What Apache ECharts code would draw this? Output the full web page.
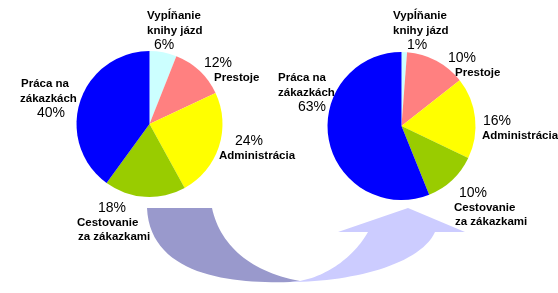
<!DOCTYPE html>
<html><head><meta charset="utf-8">
<script src="https://cdn.jsdelivr.net/npm/echarts@6/dist/echarts.min.js"></script>
<style>html,body{margin:0;padding:0;background:#fff}#c{width:558px;height:293px}</style>
</head><body><div id="c"></div>
<script>
// ---- data ----
const categories = ['Vypĺňanie knihy jázd', 'Prestoje', 'Administrácia', 'Cestovanie za zákazkami', 'Práca na zákazkách'];
const nameLines = [['Vypĺňanie', 'knihy jázd'], ['Prestoje'], ['Administrácia'], ['Cestovanie', 'za zákazkami'], ['Práca na', 'zákazkách']];
// printed percentages
const beforePercents = [6, 12, 24, 18, 40];
const afterPercents = [1, 10, 16, 10, 63];
// slice sizes as drawn in the picture
const beforeSlices = [6, 12, 24, 18, 40];
const afterSlices = [1.2, 13.2, 17.7, 11.8, 56.1];

// ---- styles / layout ----
const sliceColors = ['#ccffff', '#ff8080', '#ffff00', '#99cc00', '#0000ff'];
const lineOrder = [['n', 'n', 'p'], ['p', 'n'], ['p', 'n'], ['p', 'n', 'n'], ['n', 'n', 'p']];
// [left x, first line centre y, indent per line]
const leftLabelLayout = [[147, 16, [0, 0, 7]], [204, 63, [0, 10]], [219, 141, [16, 0]], [77, 208, [21, 0, 1]], [20, 84, [1, 0, 17]]];
const rightLabelLayout = [[393, 16, [0, 0, 14]], [448, 58, [0, 7]], [482, 121, [1, 0]], [454, 193, [5, 0, 1]], [278, 78, [0, 0, 20]]];
const NAME_LH = 14.5, PCT_LH = 15;

const rich = {};
function token(kind, indent) {
  const key = kind + '_' + indent;
  if (!rich[key]) {
    rich[key] = kind === 'n'
      ? { fontFamily: 'Liberation Sans', fontWeight: 'bold', fontSize: 11.5, color: '#000', lineHeight: NAME_LH, align: 'left', padding: [0, 0, 0, indent] }
      : { fontFamily: 'Liberation Sans', fontWeight: 'normal', fontSize: 14, color: '#000', lineHeight: PCT_LH, align: 'left', padding: [0, 0, 0, indent] };
  }
  return key;
}
function makeFormatter(layout, percents) {
  return function (p) {
    const i = p.dataIndex, ind = layout[i][2];
    let ni = 0;
    return lineOrder[i].map(function (k, j) {
      const txt = k === 'n' ? nameLines[i][ni++] : (percents[i] + '%');
      return '{' + token(k, ind[j]) + '|' + txt + '}';
    }).join('\n');
  };
}
function makeLayout(layout) {
  return function (p) {
    const L = layout[p.dataIndex];
    const first = lineOrder[p.dataIndex][0] === 'n' ? NAME_LH : PCT_LH;
    return { x: L[0], y: L[1] - first / 2, align: 'left', verticalAlign: 'top' };
  };
}
[leftLabelLayout, rightLabelLayout].forEach(function (lay) {
  lay.forEach(function (L, i) { lineOrder[i].forEach(function (k, j) { token(k, L[2][j]); }); });
});

function pieSeries(values, percents, center, radius, layout) {
  return {
    type: 'pie',
    center: center,
    radius: radius,
    startAngle: 90,
    clockwise: true,
    avoidLabelOverlap: false,
    silent: true,
    data: categories.map(function (c, i) { return { name: c, value: values[i], itemStyle: { color: sliceColors[i] } }; }),
    label: { show: true, position: 'outside', formatter: makeFormatter(layout, percents), rich: rich },
    labelLine: { show: false },
    labelLayout: makeLayout(layout),
    itemStyle: { borderWidth: 0 }
  };
}

// decorative arrow outline built from cubic segments
function cubic(p0, p1, p2, p3, n) {
  const pts = [];
  for (let k = 0; k <= n; k++) {
    const t = k / n, u = 1 - t;
    pts.push([u*u*u*p0[0] + 3*u*u*t*p1[0] + 3*u*t*t*p2[0] + t*t*t*p3[0],
              u*u*u*p0[1] + 3*u*u*t*p1[1] + 3*u*t*t*p2[1] + t*t*t*p3[1]]);
  }
  return pts;
}
const darkArrow = [[147, 208]].concat(
  cubic([212, 208], [220, 245], [250, 272], [300, 281], 30),
  cubic([290, 282], [230, 284], [150, 275], [147, 208], 30));
const lightArrow = cubic([290, 282], [350, 282], [420, 265], [435, 232], 30).concat(
  [[465, 232], [408, 208], [338, 232]],
  cubic([368, 232], [355, 255], [330, 275], [300, 281], 30));

const chart = echarts.init(document.getElementById('c'), null, { renderer: 'canvas' });
chart.setOption({
  animation: false,
  backgroundColor: '#fff',
  graphic: [
    { type: 'polygon', z: 0, shape: { points: darkArrow }, style: { fill: '#9999cc' } },
    { type: 'polygon', z: 0, shape: { points: lightArrow }, style: { fill: '#ccccff' } }
  ],
  series: [
    pieSeries(beforeSlices, beforePercents, [149.5, 124], 73, leftLabelLayout),
    pieSeries(afterSlices, afterPercents, [401.5, 126], 74, rightLabelLayout)
  ]
});
</script>
</body></html>
